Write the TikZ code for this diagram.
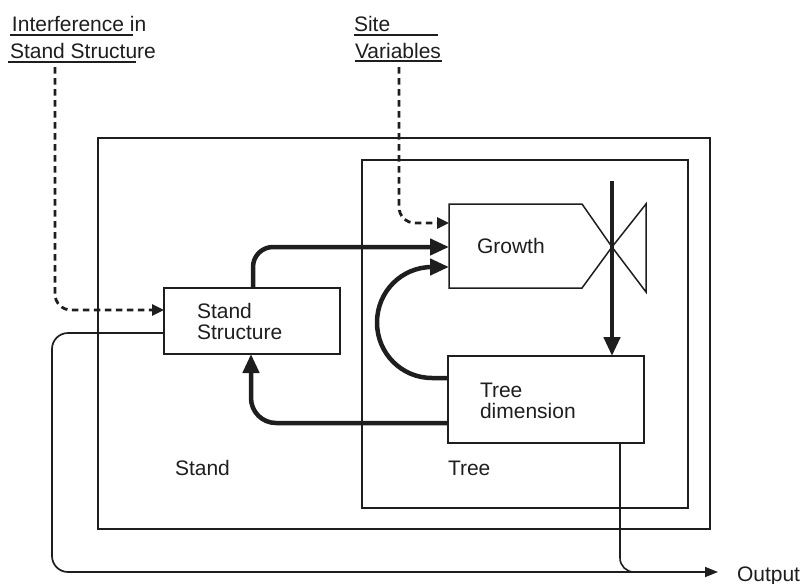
\documentclass[tikz,border=0pt]{standalone}
\usepackage{fontspec}
\setmainfont{Liberation Sans}
\usetikzlibrary{arrows.meta,calc}
\definecolor{ink}{HTML}{1E1E1E}
\begin{document}
\begin{tikzpicture}[x=1pt,y=-1pt,font=\fontsize{21}{21}\selectfont,color=ink]
\useasboundingbox (0,0) rectangle (804,584);
\tikzset{
  frame/.style={draw=ink, line width=1.5pt, inner sep=0pt, outer sep=0pt, anchor=north west},
  lbl/.style={anchor=base west, inner sep=0pt, outer sep=0pt, text=ink},
  thinline/.style={draw=ink, line width=1.6pt},
  thickarrow/.style={draw=ink, line width=4.5pt, -{Triangle[length=19pt,width=16pt]}},
  dasharrow/.style={draw=ink, line width=2.8pt, dash pattern=on 6.5pt off 4.5pt, -{Triangle[length=12pt,width=11pt]}},
  outarrow/.style={draw=ink, line width=1.7pt, -{Triangle[length=13pt,width=10pt]}},
}
% containers
\node[frame, minimum width=612pt, minimum height=391pt] (stand) at (98,138) {};
\node[frame, minimum width=326pt, minimum height=348pt] (tree) at (362,160) {};
% boxes
\node[frame, minimum width=176pt, minimum height=66pt] (ss) at (164,288) {};
\node[frame, minimum width=196pt, minimum height=87pt] (td) at (448,356) {};
\node[inner sep=0pt, outer sep=0pt, anchor=north west, minimum width=133pt, minimum height=84pt] (growth) at (449,204) {};
\coordinate (vc) at (612,247);
\draw[thinline, line width=1.5pt] (growth.north west) -- (growth.north east) -- (vc) -- (growth.south east) -- (growth.south west) -- cycle;
\draw[thinline, line width=1.5pt] (vc) -- ($(vc)+(34,-43)$) -- ($(vc)+(34,45)$) -- cycle;

% texts
\node[lbl] (tint1) at (12,31) {Interference in};
\node[lbl] (tint2) at (10,58) {Stand Structure};
\node[lbl] (tsite1) at (354,31) {Site};
\node[lbl] (tsite2) at (355,58) {Variables};
\draw[thinline, line width=1.3pt] (10,35) -- (133,35);
\draw[thinline, line width=1.3pt] (8,62) -- (136,62);
\draw[thinline, line width=1.3pt] (354,35) -- (438,35);
\draw[thinline, line width=1.3pt] (355,61) -- (442,61);

\node[lbl] (tgrowth) at (477,253) {Growth};
\node[lbl] (tss1) at (197,318) {Stand};
\node[lbl] (tss2) at (197,339) {Structure};
\node[lbl] (ttd1) at (480,397) {Tree};
\node[lbl] (ttd2) at (480,418) {dimension};
\node[lbl] (ttree) at (448,475) {Tree};
\node[lbl] (tstand) at (175,475) {Stand};
\node[lbl] (toutput) at (737,581) {Output};

% dashed inputs
\coordinate (d1) at (55,67);
\coordinate (d2) at (399,67);
\draw[dasharrow, rounded corners=16pt] (d1) |- ([yshift=-22pt]ss.north west);
\draw[dasharrow, rounded corners=16pt] (d2) |- ([yshift=-19pt]growth.north west);

% thick flows
\draw[thickarrow, rounded corners=20pt] ([xshift=89pt]ss.north west) |- ([yshift=-43pt]growth.north west);
\draw[thickarrow] ([yshift=-22pt]td.north west) -- (432,378)
  .. controls (401.6,378) and (377,353.4) .. (377,322.5)
  .. controls (377,291.6) and (401.6,267) .. (432,267) -- ([yshift=-63pt]growth.north west);
\draw[thickarrow, rounded corners=25pt] ([yshift=-67pt]td.north west) -| ([xshift=87pt]ss.south west);
\coordinate (vtop) at (612,181);
\draw[thickarrow] (vtop) -- (vtop |- td.north);

% outputs
\coordinate (outtip) at (718,572);
\draw[outarrow, rounded corners=16pt] ([yshift=-45pt]ss.north west) -| (52,572) -- (outtip);
\draw[thinline, rounded corners=14pt] ([xshift=172pt]td.south west) |- ([xshift=-20pt]outtip);
\end{tikzpicture}
\end{document}
